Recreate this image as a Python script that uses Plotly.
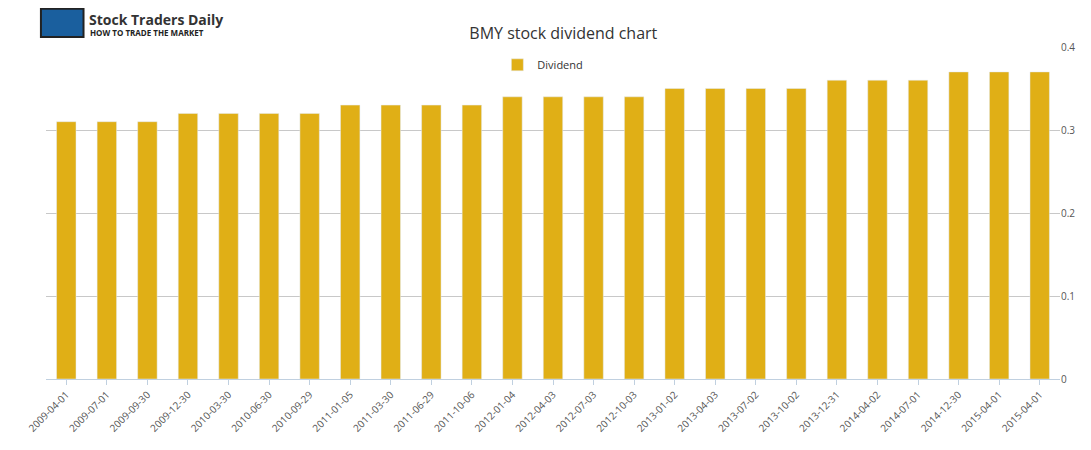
import plotly.graph_objects as go

dates = ["2009-04-01","2009-07-01","2009-09-30","2009-12-30","2010-03-30","2010-06-30","2010-09-29",
         "2011-01-05","2011-03-30","2011-06-29","2011-10-06","2012-01-04","2012-04-03","2012-07-03",
         "2012-10-03","2013-01-02","2013-04-03","2013-07-02","2013-10-02","2013-12-31","2014-04-02",
         "2014-07-01","2014-12-30","2015-04-01","2015-04-01"]
dividend = [0.31,0.31,0.31,0.32,0.32,0.32,0.32,0.33,0.33,0.33,0.33,0.34,0.34,0.34,0.34,
            0.35,0.35,0.35,0.35,0.36,0.36,0.36,0.37,0.37,0.37]
yticks = [0, 0.1, 0.2, 0.3, 0.4]
yticklabels = ["0", "0.1", "0.2", "0.3", "0.4"]

idx = list(range(len(dates)))
fig = go.Figure(go.Bar(x=idx, y=dividend, name="Dividend", marker_color="#E0AF16", width=0.48,
                       showlegend=True))
fig.update_layout(
    width=1091, height=450, paper_bgcolor="white", plot_bgcolor="white",
    margin=dict(l=38, r=39, t=39, b=79),
    font=dict(family="Open Sans, DejaVu Sans", color="#555"),
    title=dict(text="BMY stock dividend chart", x=0.509, xanchor="center", y=0.955,
               font=dict(size=16, color="#333")),
    legend=dict(orientation="h", x=0.49, xanchor="center", y=0.99, yanchor="top",
                font=dict(size=11, color="#333", family="Open Sans"), itemwidth=30),
    bargap=0.5,
)
fig.update_xaxes(tickvals=idx, ticktext=dates, tickangle=-45, range=[-0.5, len(dates)-0.5],
                 showline=True, linecolor="#C0D0E0", ticks="outside", tickcolor="#C0D0E0",
                 tickfont=dict(size=10, color="#555"), showgrid=False)
fig.update_yaxes(side="right", range=[0, 0.4], tickvals=yticks, ticktext=yticklabels,
                 gridcolor="#C8C8C8", tickfont=dict(size=10, color="#555"), zeroline=False)
# logo
fig.add_shape(type="rect", xref="paper", yref="paper", x0=-0.005, x1=0.037, y0=1.03, y1=1.115,
              fillcolor="#1a5f9e", line=dict(color="#222", width=2))
fig.add_annotation(text="<b>Stock Traders Daily</b>", xref="paper", yref="paper", x=0.04, y=1.118,
                   xanchor="left", yanchor="top", showarrow=False, font=dict(size=14, color="#333", family="Open Sans"))
fig.add_annotation(text="<b>HOW TO TRADE THE MARKET</b>", xref="paper", yref="paper", x=0.041, y=1.065,
                   xanchor="left", yanchor="top", showarrow=False, font=dict(size=8, color="#222", family="Open Sans"))
fig.write_html("out.html")
